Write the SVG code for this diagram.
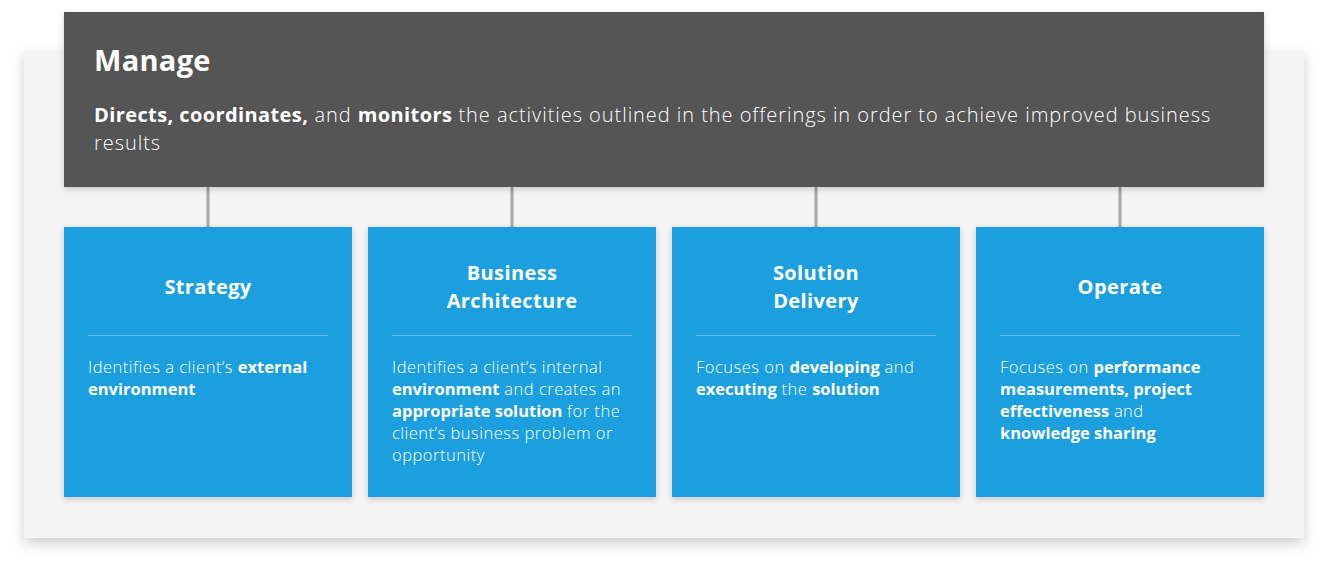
<svg xmlns="http://www.w3.org/2000/svg" width="1328" height="570" viewBox="0 0 1328 570">
<defs>
<filter id="sh" x="-10%" y="-10%" width="120%" height="130%">
<feDropShadow dx="0" dy="5" stdDeviation="7" flood-color="#000" flood-opacity="0.2"/>
</filter>
<filter id="sh2" x="-10%" y="-10%" width="120%" height="130%">
<feDropShadow dx="0" dy="2" stdDeviation="3" flood-color="#000" flood-opacity="0.2"/>
</filter>
</defs>
<style>
text{font-family:"Open Sans","DejaVu Sans",sans-serif;fill:#fff}
.t{font-size:20px;font-weight:700;text-anchor:middle;letter-spacing:0.4px}
.body{font-size:16.5px;font-weight:300;letter-spacing:0.5px}
.hd{font-size:20px;font-weight:300;letter-spacing:0.95px}
.b{font-weight:700}
.body .b,.body.b{letter-spacing:0}
.hd .b{letter-spacing:0.4px}
.card{fill:#1a9fde;filter:url(#sh2)}
.div{stroke:#5cbcef;stroke-width:1}
.conn{stroke:#a8a8a8;stroke-width:3}
</style>
<g id="panel"><rect x="24" y="52" width="1280" height="486" fill="#f4f4f4" filter="url(#sh)"/></g>
<g id="connectors">
<line class="conn" x1="208" y1="187" x2="208" y2="227"/>
<line class="conn" x1="512" y1="187" x2="512" y2="227"/>
<line class="conn" x1="816" y1="187" x2="816" y2="227"/>
<line class="conn" x1="1120" y1="187" x2="1120" y2="227"/>
</g>
<g id="manage">
<rect x="64" y="12" width="1200" height="175" fill="#555555" filter="url(#sh2)"/>
<text x="94" y="71" class="b" font-size="29" letter-spacing="0.3">Manage</text>
<text x="94" y="122" class="hd"><tspan class="b">Directs, coordinates,</tspan> and <tspan class="b">monitors</tspan> the activities outlined in the offerings in order to achieve improved business</text>
<text x="94" y="150" class="hd">results</text>
</g>
<g id="strategy">
<rect class="card" x="64" y="227" width="288" height="270"/>
<text class="t" x="208" y="294">Strategy</text>
<line class="div" x1="88" y1="335.5" x2="328" y2="335.5"/>
<text class="body" x="88" y="373">Identifies a client’s <tspan class="b">external</tspan></text>
<text class="body b" x="88" y="395">environment</text>
</g>
<g id="business-architecture">
<rect class="card" x="368" y="227" width="288" height="270"/>
<text class="t" x="512" y="280">Business</text>
<text class="t" x="512" y="308">Architecture</text>
<line class="div" x1="392" y1="335.5" x2="632" y2="335.5"/>
<text class="body" x="392" y="373">Identifies a client’s internal</text>
<text class="body" x="392" y="395"><tspan class="b">environment</tspan> and creates an</text>
<text class="body" x="392" y="417"><tspan class="b">appropriate solution</tspan> for the</text>
<text class="body" x="392" y="439">client’s business problem or</text>
<text class="body" x="392" y="461">opportunity</text>
</g>
<g id="solution-delivery">
<rect class="card" x="672" y="227" width="288" height="270"/>
<text class="t" x="816" y="280">Solution</text>
<text class="t" x="816" y="308">Delivery</text>
<line class="div" x1="696" y1="335.5" x2="936" y2="335.5"/>
<text class="body" x="696" y="373">Focuses on <tspan class="b">developing</tspan> and</text>
<text class="body" x="696" y="395"><tspan class="b">executing</tspan> the <tspan class="b">solution</tspan></text>
</g>
<g id="operate">
<rect class="card" x="976" y="227" width="288" height="270"/>
<text class="t" x="1120" y="294">Operate</text>
<line class="div" x1="1000" y1="335.5" x2="1240" y2="335.5"/>
<text class="body" x="1000" y="373">Focuses on <tspan class="b">performance</tspan></text>
<text class="body b" x="1000" y="395">measurements, project</text>
<text class="body" x="1000" y="417"><tspan class="b">effectiveness</tspan> and</text>
<text class="body b" x="1000" y="439">knowledge sharing</text>
</g>
</svg>
